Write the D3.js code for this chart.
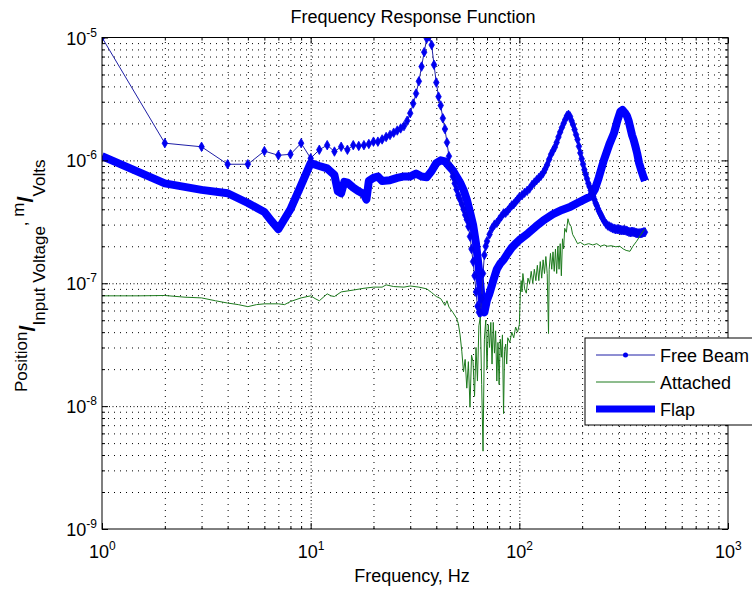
<!DOCTYPE html>
<html><head><meta charset="utf-8">
<script src="https://cdn.jsdelivr.net/npm/d3@7"></script>
<style>body{margin:0;background:#fff} text{font-family:"Liberation Sans",Arial,sans-serif}</style>
</head><body><svg id="c" width="752" height="589"></svg>
<script>
// ---------------- data ----------------
const title = "Frequency Response Function";
const xLabel = "Frequency, Hz";
const seriesNames = ["Free Beam", "Attached", "Flap"];
const xTickExp = [0, 1, 2, 3];
const yTickExp = [-9, -8, -7, -6, -5];

const freeBeamHz = [1,2,3,4,5,6,7,8,9,10,11,12,13,14,15,16,17,18,19,20,21,22,23,24,25,26,27,28,29,30,
  31,32,33,34,35,36,37,38,39,40,41,42,43,44,45,46,47,48,49,50,51,52,53,54,55,56,57,58,59,60,
  61,62,63,64,65,66,67,68,69,70,72,74,76,78,80,82,84,86,88,90,92,94,96,98,100,
  103,106,109,112,115,118,121,124,127,130,133,136,139,142,145,148,151,154,157,160,163,166,169,172,175,178,
  181,184,187,190,193,196,199,202,205,208,211,214,217,220,223,226,229,232,235,238,241,244,247,250,
  255,260,265,270,275,280,285,290,295,300,305,310,315,320,325,330,335,340,345,350,355,360,365,370,375,380,385,390,395,400];
const freeBeamVal = [1.0e-5,1.38e-6,1.29e-6,9.3e-7,9.3e-7,1.19e-6,1.1e-6,1.12e-6,1.38e-6,1.04e-6,
  1.22e-6,1.33e-6,1.18e-6,1.29e-6,1.22e-6,1.33e-6,1.31e-6,1.33e-6,1.36e-6,1.42e-6,
  1.42e-6,1.48e-6,1.55e-6,1.61e-6,1.68e-6,1.75e-6,1.82e-6,1.9e-6,2.1e-6,2.42e-6,
  2.9e-6,3.5e-6,4.4e-6,5.8e-6,7.6e-6,9.8e-6,1.02e-5,8.7e-6,6.0e-6,4.3e-6,
  3.3e-6,2.8e-6,2.2e-6,1.8e-6,1.4e-6,1.08e-6,8.8e-7,7.4e-7,6.5e-7,5.8e-7,
  5.2e-7,4.8e-7,4.4e-7,4.0e-7,3.6e-7,3.3e-7,2.9e-7,2.4e-7,1.9e-7,1.5e-7,
  1.15e-7,8.5e-8,6.5e-8,5.8e-8,5.7e-8,7.5e-8,1.2e-7,1.7e-7,2.0e-7,2.2e-7,
  2.5e-7,2.8e-7,3.0e-7,3.1e-7,3.3e-7,3.5e-7,3.7e-7,3.75e-7,3.9e-7,4.1e-7,4.3e-7,4.4e-7,4.6e-7,4.8e-7,5.0e-7,
  5.2e-7,5.45e-7,5.65e-7,5.9e-7,6.3e-7,6.6e-7,6.9e-7,7.2e-7,7.5e-7,7.9e-7,8.5e-7,9.2e-7,1.02e-6,1.12e-6,1.2e-6,
  1.28e-6,1.4e-6,1.55e-6,1.7e-6,1.85e-6,2.0e-6,2.15e-6,2.3e-6,2.35e-6,2.28e-6,2.1e-6,
  1.95e-6,1.78e-6,1.62e-6,1.48e-6,1.3e-6,1.15e-6,1.03e-6,9.3e-7,8.4e-7,7.7e-7,7.1e-7,6.5e-7,6.1e-7,5.7e-7,
  5.4e-7,5.1e-7,4.8e-7,4.5e-7,4.3e-7,4.05e-7,3.85e-7,3.7e-7,3.55e-7,3.4e-7,
  3.2e-7,3.05e-7,2.95e-7,2.9e-7,2.85e-7,2.8e-7,2.78e-7,2.75e-7,2.75e-7,2.75e-7,2.72e-7,2.7e-7,2.7e-7,2.7e-7,2.68e-7,
  2.65e-7,2.62e-7,2.6e-7,2.62e-7,2.62e-7,2.6e-7,2.58e-7,2.56e-7,2.55e-7,2.55e-7,2.55e-7,2.56e-7,2.58e-7,2.6e-7,2.6e-7];

const attachedHz = [1,1.5,2,2.5,3,3.5,4,4.5,5,5.5,6,7,7.5,8,9,10,10.5,11,12,12.5,13,14,16,18,20,22,23,25,28,30,33,36,38,40,
  42,44,45,46,48,50,51,52,53,54,55,56,57,58,59,60,61,62,63,64,65,66,67,68,69,70,71,72,73,74,75,76,77,78,79,80,
  81,82,83,84,85,86,87,88,90,92,94,96,98,100,101,102,103,104,106,108,110,112,114,116,118,120,122,124,126,128,
  130,132,134,136,138,139,141,143,145,147,149,151,153,155,157,159,161,163,165,168,171,174,177,180,185,190,196,
  205,215,225,235,245,255,265,275,290,303,315,325,339,350,365,380,395,400];
const attachedVal = [7.9e-8,7.9e-8,7.95e-8,7.7e-8,7.6e-8,7.2e-8,6.9e-8,6.7e-8,6.45e-8,6.7e-8,6.8e-8,6.8e-8,6.7e-8,7.1e-8,7.6e-8,7.9e-8,7.5e-8,7.2e-8,8.2e-8,7.9e-8,
  7.8e-8,8.5e-8,8.8e-8,9.1e-8,9.3e-8,9.3e-8,9.7e-8,9.4e-8,9.3e-8,9.5e-8,9.3e-8,9.0e-8,8.4e-8,7.8e-8,
  7.5e-8,6.6e-8,7.2e-8,6.4e-8,5.8e-8,5.2e-8,4.7e-8,3.8e-8,2.8e-8,1.9e-8,2.4e-8,1.4e-8,2.3e-8,9.8e-9,2.6e-8,2.3e-8,
  1.2e-8,3.0e-8,1.6e-8,4.5e-8,5.3e-8,1.5e-8,4.3e-9,3.5e-8,5.0e-8,2.0e-8,4.6e-8,3.0e-8,4.8e-8,2.2e-8,4.8e-8,2.7e-8,4.1e-8,1.6e-8,3.3e-8,1.5e-8,
  3.5e-8,2.5e-8,3.8e-8,8.7e-9,2.8e-8,3.2e-8,2.2e-8,3.6e-8,3.3e-8,4.0e-8,3.6e-8,4.4e-8,4.0e-8,4.6e-8,8.0e-8,1.05e-7,8.5e-8,1.2e-7,9.0e-8,8.3e-8,
  1.1e-7,1.0e-7,1.25e-7,1.0e-7,1.3e-7,1.05e-7,1.4e-7,1.05e-7,1.5e-7,1.1e-7,
  1.55e-7,1.2e-7,1.65e-7,1.2e-7,3.9e-8,1.3e-7,1.75e-7,1.3e-7,1.8e-7,1.25e-7,1.9e-7,1.2e-7,2.0e-7,1.3e-7,2.1e-7,1.15e-7,2.3e-7,1.9e-7,2.8e-7,2.6e-7,
  3.35e-7,3.0e-7,2.9e-7,2.5e-7,2.3e-7,2.1e-7,2.15e-7,
  2.05e-7,2.1e-7,2.05e-7,2.1e-7,2.0e-7,2.05e-7,2.0e-7,2.02e-7,1.98e-7,2.0e-7,1.9e-7,1.85e-7,1.82e-7,2.0e-7,2.2e-7,2.45e-7,2.7e-7,2.75e-7];

const flapHz = [1,2,3,4,5,6,6.5,7,8,9,10,11,12,13,13.5,14,14.5,15,16,17,18,18.5,19,20,21,22,24,26,28,30,32,34,36,38,40,42,44,46,48,50,
  52,54,56,58,60,62,64,66,67,68,69,70,72,75,78,81,84,88,92,96,100,110,120,131,145,160,176,195,210,220,230,240,254,270,284,295,305,312,
  320,328,334,340,347,353,360,367,375,385,395,400];
const flapVal = [1.08e-6,6.5e-7,5.75e-7,5.4e-7,4.5e-7,3.8e-7,3.2e-7,2.75e-7,4.0e-7,6.3e-7,9.5e-7,9.0e-7,8.6e-7,7.6e-7,5.6e-7,5.4e-7,6.7e-7,6.6e-7,6.0e-7,5.6e-7,
  5.3e-7,4.8e-7,6.8e-7,7.2e-7,7.4e-7,6.8e-7,6.9e-7,7.2e-7,7.4e-7,7.4e-7,7.8e-7,7.4e-7,7.3e-7,8.2e-7,9.5e-7,1.0e-6,9.8e-7,9.0e-7,8.3e-7,7.4e-7,
  6.6e-7,5.75e-7,4.8e-7,3.8e-7,3.0e-7,2.1e-7,1.3e-7,7.5e-8,6.0e-8,5.8e-8,6.5e-8,7.3e-8,8.3e-8,1.05e-7,1.3e-7,1.45e-7,1.55e-7,1.75e-7,1.95e-7,2.1e-7,
  2.25e-7,2.55e-7,2.9e-7,3.27e-7,3.65e-7,3.95e-7,4.2e-7,4.6e-7,4.9e-7,5.1e-7,5.8e-7,7.2e-7,1.0e-6,1.35e-6,1.66e-6,2.1e-6,2.5e-6,2.57e-6,
  2.45e-6,2.3e-6,2.1e-6,1.85e-6,1.6e-6,1.47e-6,1.3e-6,1.14e-6,9.5e-7,8.2e-7,7.2e-7,6.8e-7];

// ---------------- layout ----------------
const svg = d3.select("#c");
const L = 102, R = 728, T = 37.5, B = 529;
const x = d3.scaleLog().domain([1, 1000]).range([L, R]);
const y = d3.scaleLog().domain([1e-9, 1e-5]).range([B, T]);

const xMajorT = xTickExp.map(e => Math.pow(10, e));
const yMajorT = yTickExp.map(e => Math.pow(10, e));
const minorOf = majors => {
  const out = [];
  for (let i = 0; i < majors.length - 1; i++) for (let k = 2; k <= 9; k++) out.push(majors[i] * k);
  return out;
};
const xMinorT = minorOf(xMajorT), yMinorT = minorOf(yMajorT);

svg.append("rect").attr("width", 752).attr("height", 589).attr("fill", "#fff");

// grid
function grid(gen, vals, len, dash) {
  const g = svg.append("g");
  g.call(gen.tickValues(vals).tickSize(len).tickFormat(""));
  g.select(".domain").remove();
  g.selectAll("line").attr("stroke", "#000").attr("stroke-width", 1).attr("stroke-dasharray", dash);
  return g;
}
grid(d3.axisBottom(x), xMinorT, -(B - T), "1,5").attr("transform", `translate(0,${B})`);
grid(d3.axisBottom(x), xMajorT.slice(1, 3), -(B - T), "1,2.5").attr("transform", `translate(0,${B})`);
grid(d3.axisLeft(y), yMinorT, -(R - L), "1,5").attr("transform", `translate(${L},0)`);
grid(d3.axisLeft(y), yMajorT.slice(1, 4), -(R - L), "1,2.5").attr("transform", `translate(${L},0)`);

// data
svg.append("clipPath").attr("id", "pc").append("rect")
  .attr("x", L).attr("y", T).attr("width", R - L).attr("height", B - T);
const plot = svg.append("g").attr("clip-path", "url(#pc)");
const line = d3.line().x(d => x(d[0])).y(d => y(d[1]));
const fb = freeBeamHz.map((f, i) => [f, freeBeamVal[i]]);
const at = attachedHz.map((f, i) => [f, attachedVal[i]]);
const fl = flapHz.map((f, i) => [f, flapVal[i]]);

plot.append("path").datum(fl).attr("d", line).attr("fill", "none")
  .attr("stroke", "#0000ff").attr("stroke-width", 8).attr("stroke-linejoin", "round");
plot.append("path").datum(fb).attr("d", line).attr("fill", "none")
  .attr("stroke", "#1f1fa6").attr("stroke-width", 1);
const diamond = d3.symbol().type(d3.symbolDiamond).size(26);
plot.selectAll("path.fb").data(fb).enter().append("path").attr("class", "fb")
  .attr("transform", d => `translate(${x(d[0])},${y(d[1])})`)
  .attr("d", diamond).attr("fill", "#0000f0").attr("stroke", "#0000f0").attr("stroke-width", 0.8);
plot.append("path").datum(at).attr("d", line).attr("fill", "none")
  .attr("stroke", "#1c7a1c").attr("stroke-width", 1);

// axes ticks (inward) on four sides
function ticks(gen, tr, vals, len) {
  const g = svg.append("g").attr("transform", tr);
  g.call(gen.tickValues(vals).tickSize(len).tickFormat(""));
  g.select(".domain").remove();
  g.selectAll("line").attr("stroke", "#000");
  return g;
}
ticks(d3.axisBottom(x), `translate(0,${B})`, xMajorT, -6);
ticks(d3.axisBottom(x), `translate(0,${B})`, xMinorT, -3);
ticks(d3.axisTop(x), `translate(0,${T})`, xMajorT, -6);
ticks(d3.axisTop(x), `translate(0,${T})`, xMinorT, -3);
ticks(d3.axisLeft(y), `translate(${L},0)`, yMajorT, -6);
ticks(d3.axisLeft(y), `translate(${L},0)`, yMinorT, -3);
ticks(d3.axisRight(y), `translate(${R},0)`, yMajorT, -6);
ticks(d3.axisRight(y), `translate(${R},0)`, yMinorT, -3);

svg.append("rect").attr("x", L).attr("y", T).attr("width", R - L).attr("height", B - T)
  .attr("fill", "none").attr("stroke", "#000").attr("stroke-width", 1);

// tick labels
xTickExp.forEach(e => {
  const t = svg.append("text").attr("x", x(Math.pow(10, e)) - 13).attr("y", 558)
    .attr("font-size", 18).attr("fill", "#000");
  t.append("tspan").text("10");
  t.append("tspan").attr("dy", -8).attr("font-size", 12).text(String(e));
});
yTickExp.forEach(e => {
  const t = svg.append("text").attr("x", 97).attr("y", y(Math.pow(10, e)) + 7)
    .attr("font-size", 18).attr("fill", "#000").attr("text-anchor", "end");
  t.append("tspan").text("10");
  t.append("tspan").attr("dy", -8).attr("font-size", 12).text(String(e));
});

// title and x label
svg.append("text").attr("x", 413).attr("y", 23).attr("text-anchor", "middle")
  .attr("font-size", 18).text(title);
svg.append("text").attr("x", 412).attr("y", 582).attr("text-anchor", "middle")
  .attr("font-size", 18).text(xLabel);

// y label with sub/superscripts
const yl = svg.append("text").attr("transform", "translate(27,392) rotate(-90)").attr("font-size", 17);
yl.append("tspan").text("Position");
yl.append("tspan").attr("dy", 8).attr("font-weight", "bold").attr("font-size", 22).text("/");
yl.append("tspan").attr("dy", 10).text("Input Voltage");
yl.append("tspan").attr("dy", -18).text(", ");
yl.append("tspan").attr("dy", -3).text("m");
yl.append("tspan").attr("dy", 9).attr("font-weight", "bold").attr("font-size", 22).text("/");
yl.append("tspan").attr("dy", 12).text("Volts");

// legend
const lg = svg.append("g");
lg.append("rect").attr("x", 585).attr("y", 338).attr("width", 200).attr("height", 87)
  .attr("fill", "#fff").attr("stroke", "#000").attr("stroke-width", 1);
const rows = [355, 382, 409];
const styles = [
  { stroke: "#1f1fa6", w: 1, marker: true },
  { stroke: "#1c7a1c", w: 1, marker: false },
  { stroke: "#0000ff", w: 7, marker: false }
];
seriesNames.forEach((name, i) => {
  lg.append("line").attr("x1", 596).attr("x2", 655).attr("y1", rows[i]).attr("y2", rows[i])
    .attr("stroke", styles[i].stroke).attr("stroke-width", styles[i].w);
  if (styles[i].marker) lg.append("circle").attr("cx", 625.5).attr("cy", rows[i]).attr("r", 2.5).attr("fill", "#0000f0");
  lg.append("text").attr("x", 660).attr("y", rows[i] + 6.5).attr("font-size", 18).text(name);
});
</script></body></html>
